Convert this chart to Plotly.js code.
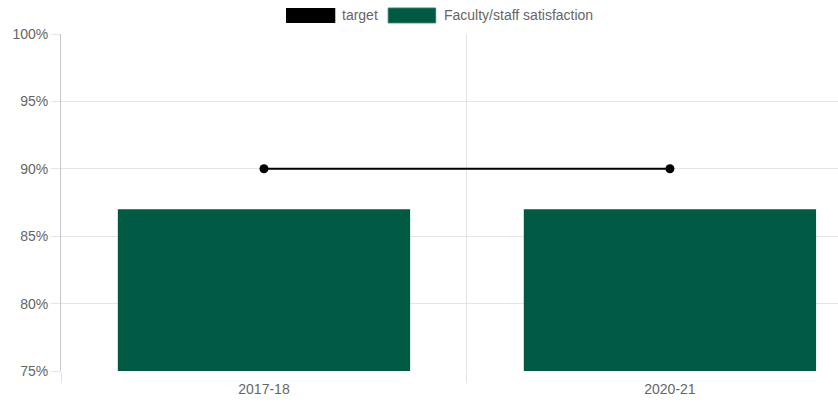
<!DOCTYPE html>
<html>
<head>
<meta charset="utf-8">
<script src="https://cdn.plot.ly/plotly-3.0.1.min.js"></script>
<style>html,body{margin:0;padding:0;background:#fff;}#chart{width:838px;height:402px;}</style>
</head>
<body>
<div id="chart"></div>
<script>
const categories = ["2017-18", "2020-21"];
const satisfaction = [87, 87];
const target = [90, 90];
const seriesNames = ["target", "Faculty/staff satisfaction"];
const seriesColors = ["#000000", "#005a43"];
const yTicks = [75, 80, 85, 90, 95, 100];

const font = {family: "Liberation Sans, Arial, Helvetica, sans-serif", size: 14, color: "#666666"};

const traces = [
  {
    type: "bar", x: categories, y: satisfaction, name: seriesNames[1],
    marker: {color: seriesColors[1]}, base: 0, showlegend: false, hoverinfo: "skip"
  },
  {
    type: "scatter", mode: "lines+markers", x: categories, y: target, name: seriesNames[0],
    line: {color: seriesColors[0], width: 2}, marker: {color: seriesColors[0], size: 9},
    showlegend: false, hoverinfo: "skip", cliponaxis: true
  }
];

const layout = {
  width: 838, height: 402,
  margin: {l: 61, r: 0, t: 34, b: 31, pad: 0},
  paper_bgcolor: "#ffffff", plot_bgcolor: "#ffffff",
  font: font,
  showlegend: false,
  bargap: 0.28,
  xaxis: {
    type: "category", range: [-0.5, 1.414], tickson: "boundaries",
    ticks: "outside", ticklen: 11, tickcolor: "#e5e5e5", tickwidth: 1,
    ticklabelstandoff: 8,
    showgrid: true, gridcolor: "#e5e5e5", gridwidth: 1,
    showline: false, zeroline: false, fixedrange: true,
    tickfont: font
  },
  yaxis: {
    range: [75, 100], tickvals: yTicks, ticktext: yTicks.map(v => v + "%"),
    ticks: "outside", ticklen: 9, tickcolor: "#e5e5e5",
    showgrid: true, gridcolor: "#e5e5e5", gridwidth: 1,
    showline: true, linecolor: "#c8c8c8", linewidth: 1,
    zeroline: false, fixedrange: true, tickfont: font
  },
  shapes: [
    {type: "rect", xref: "paper", yref: "paper", x0: 0.2896, x1: 0.3530, y0: 1.033, y1: 1.077,
     fillcolor: seriesColors[0], line: {width: 0}},
    {type: "rect", xref: "paper", yref: "paper", x0: 0.4211, x1: 0.4822, y0: 1.033, y1: 1.077,
     fillcolor: seriesColors[1], line: {width: 1, color: "#2e7a63"}}
  ],
  annotations: [
    {xref: "paper", yref: "paper", x: 0.3596, y: 1.055, xanchor: "left", yanchor: "middle",
     text: seriesNames[0], showarrow: false, font: font},
    {xref: "paper", yref: "paper", x: 0.4907, y: 1.055, xanchor: "left", yanchor: "middle",
     text: seriesNames[1], showarrow: false, font: font}
  ]
};

Plotly.newPlot("chart", traces, layout, {displayModeBar: false, staticPlot: true});
</script>
</body>
</html>
